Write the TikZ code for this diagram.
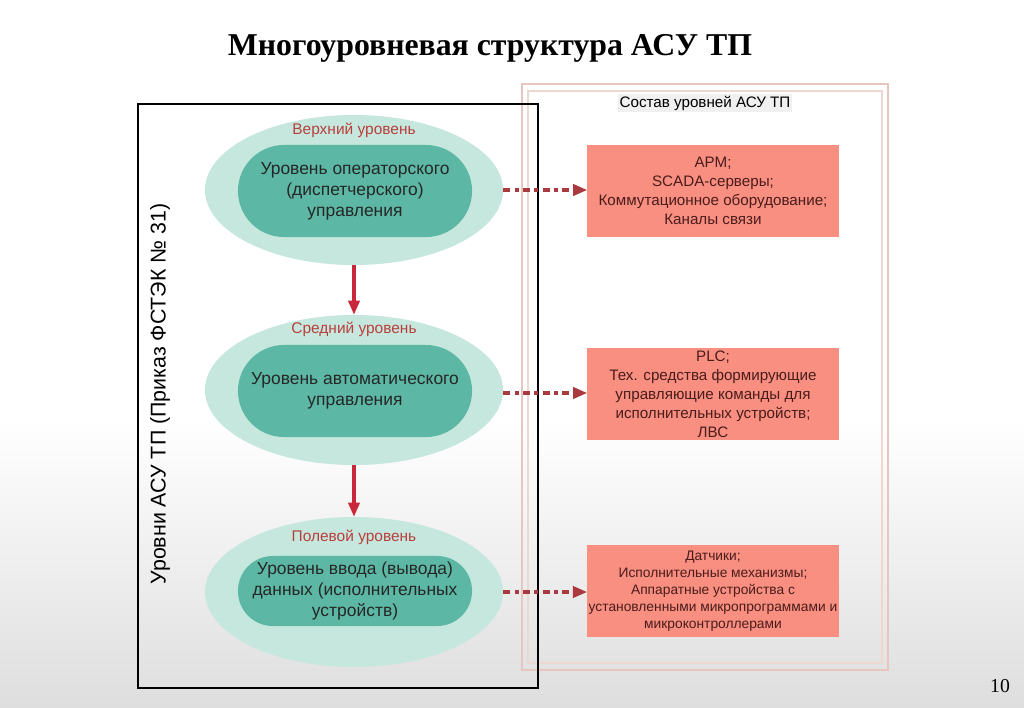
\documentclass[tikz,border=0pt]{standalone}
\usepackage{fontspec}
\setmainfont{Liberation Sans}
\newfontfamily\titlefont{Liberation Serif}
\usetikzlibrary{shapes.geometric, positioning, calc, arrows.meta}

\definecolor{mintpale}{HTML}{C6E7DE}
\definecolor{tealmid}{HTML}{5CB8A5}
\definecolor{salmonbox}{HTML}{F98F80}
\definecolor{arrowred}{HTML}{C8283A}
\definecolor{dashred}{HTML}{A83A40}
\definecolor{boxtext}{HTML}{4A1C1C}
\definecolor{labelred}{HTML}{B8403C}
\definecolor{framepink}{HTML}{E6C6BE}

\tikzset{
  levelouter/.style={ellipse, fill=mintpale, minimum width=7.45cm, minimum height=3.75cm, inner sep=0pt},
  levelinner/.style={fill=tealmid, minimum width=5.85cm, minimum height=2.3cm, rounded corners=1.15cm,
    align=center, font=\fontsize{12.4}{15}\selectfont, text=black!85},
  levellabel/.style={font=\fontsize{11}{13}\selectfont, text=labelred},
  partbox/.style={fill=salmonbox, minimum width=6.275cm, minimum height=2.3cm, inner sep=1pt,
    align=center, text=boxtext, font=\fontsize{10.8}{13.5}\selectfont},
  downarrow/.style={arrowred, line width=2.2pt, -{Triangle[length=10pt, width=8pt]}},
  linkarrow/.style={dashred, line width=2.2pt, dash pattern=on 5pt off 3pt on 3pt off 3pt,
    -{Triangle[length=10pt, width=8pt]}}
}

\begin{document}
\begin{tikzpicture}[x=0.025cm, y=-0.025cm]
\useasboundingbox (0,0) rectangle (1024,708);

% Slide background
\fill[white] (0,0) rectangle (1024,420);
\shade[top color=white, bottom color=black!13] (0,420) rectangle (1024,708);

% Title and page number
\node[font=\titlefont\bfseries\fontsize{22.6}{26}\selectfont] (title) at (490,48) {Многоуровневая структура АСУ ТП};
\node[font=\titlefont\fontsize{14}{16}\selectfont] (pagenum) at (1000,686) {10};

% Right frame: composition of levels
\draw[framepink, line width=1.2pt] (522,84) rectangle (888,670);
\draw[framepink!70, line width=0.8pt] (528,91) rectangle (882,663);
\node[font=\fontsize{10.8}{12}\selectfont, fill=black!6, inner sep=1pt] (comptitle) at (705,103) {Состав уровней АСУ ТП};

% Left frame: levels
\draw[black, line width=1pt] (138,104) rectangle (538,688);
\node[rotate=90, font=\fontsize{15.2}{17}\selectfont] (levelside) at (160,394) {Уровни АСУ ТП (Приказ ФСТЭК № 31)};

% Upper level
\node[levelouter] (upper) at (354,190) {};
\node[levellabel] (upperlab) at (354,130) {Верхний уровень};
\node[levelinner] (upperin) at (355,191) {Уровень операторского\\(диспетчерского)\\управления};

% Middle level
\node[levelouter] (middle) at (354,390) {};
\node[levellabel] (middlelab) at (354,329) {Средний уровень};
\node[levelinner] (middlein) at (355,391) {Уровень автоматического\\управления};

% Field level
\node[levelouter] (field) at (354,592) {};
\node[levellabel] (fieldlab) at (354,537) {Полевой уровень};
\node[levelinner, minimum height=1.75cm, rounded corners=0.87cm] (fieldin) at (355,591) {Уровень ввода (вывода)\\данных (исполнительных\\устройств)};

% Composition boxes
\node[partbox] (upperbox) at (713,191) {АРМ;\\SCADA-серверы;\\Коммутационное оборудование;\\Каналы связи};
\node[partbox] (middlebox) at (713,394) {PLC;\\Тех. средства формирующие\\управляющие команды для\\исполнительных устройств;\\ЛВС};
\node[partbox, font=\fontsize{9.8}{12}\selectfont] (fieldbox) at (713,591) {Датчики;\\Исполнительные механизмы;\\Аппаратные устройства с\\установленными микропрограммами и\\микроконтроллерами};

% Connectors
\draw[downarrow] (upper) -- (middle);
\draw[downarrow] (middle) -- (field);
\draw[linkarrow] (upper.east) -- (upper.east -| upperbox.west);
\draw[linkarrow] ($(middle.east)+(0,3)$) -- ($(middle.east -| middlebox.west)+(0,3)$);
\draw[linkarrow] (field.east) -- (field.east -| fieldbox.west);

\end{tikzpicture}
\end{document}
